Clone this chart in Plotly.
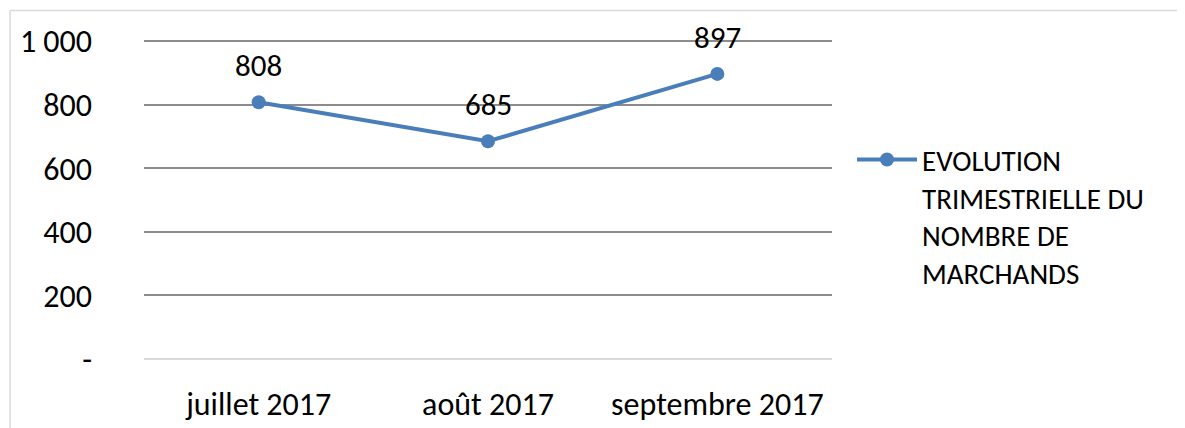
import plotly.graph_objects as go

categories = ["juillet 2017", "août 2017", "septembre 2017"]
values = [808, 685, 897]
series_name = "EVOLUTION<br>TRIMESTRIELLE DU<br>NOMBRE DE<br>MARCHANDS"
y_tickvals = [0, 200, 400, 600, 800, 1000]
y_ticktext = ["-", "200", "400", "600", "800", "1 000"]

FONT = "Carlito, Lato, 'Open Sans', sans-serif"
BLUE = "#4a7ebb"

# plot area in figure coords (page has an 8px body offset)
L, R, T, B = 136, 361, 30, 71
PW, PH = 1185 - L - R, 428 - T - B
Y_MAX = 1010

fig = go.Figure()
fig.add_trace(go.Scatter(
    x=categories, y=values, mode="lines+markers", name=series_name,
    line=dict(color=BLUE, width=4),
    marker=dict(color=BLUE, size=14),
))
for c, v in zip(categories, values):
    fig.add_annotation(x=c, y=v, text=str(v), showarrow=False, yshift=37,
                       font=dict(size=31, color="#000000", family=FONT))

fig.update_layout(
    width=1185, height=428,
    margin=dict(l=L, r=R, t=T, b=B),
    paper_bgcolor="white", plot_bgcolor="white",
    font=dict(family=FONT, size=32, color="#000000"),
    showlegend=True,
    legend=dict(x=1.0 + 20 / PW, y=(357 - 128) / PH, xanchor="left", yanchor="top",
                font=dict(size=29, family=FONT), valign="top",
                itemwidth=60, tracegroupgap=0),
    xaxis=dict(range=[-0.5, 2.5], showgrid=False, showline=False, zeroline=False,
               ticks="", ticklabelstandoff=23, tickfont=dict(size=32)),
    yaxis=dict(range=[0, Y_MAX], tickvals=y_tickvals, ticktext=y_ticktext,
               showgrid=True, gridcolor="#8c8c8c", gridwidth=2,
               zeroline=True, zerolinecolor="#d9d9d9", zerolinewidth=2,
               showline=False, ticks="", ticklabelstandoff=51,
               tickfont=dict(size=32)),
    shapes=[
        dict(type="line", xref="paper", yref="paper",
             x0=(2 - L) / PW, x1=(1200 - L) / PW,
             y0=(357 - 2) / PH, y1=(357 - 2) / PH,
             line=dict(color="#d9d9d9", width=1.5)),
        dict(type="line", xref="paper", yref="paper",
             x0=(2 - L) / PW, x1=(2 - L) / PW,
             y0=(357 - 2) / PH, y1=(357 - 440) / PH,
             line=dict(color="#d9d9d9", width=1.5)),
    ],
)

fig.write_html("out.html")
